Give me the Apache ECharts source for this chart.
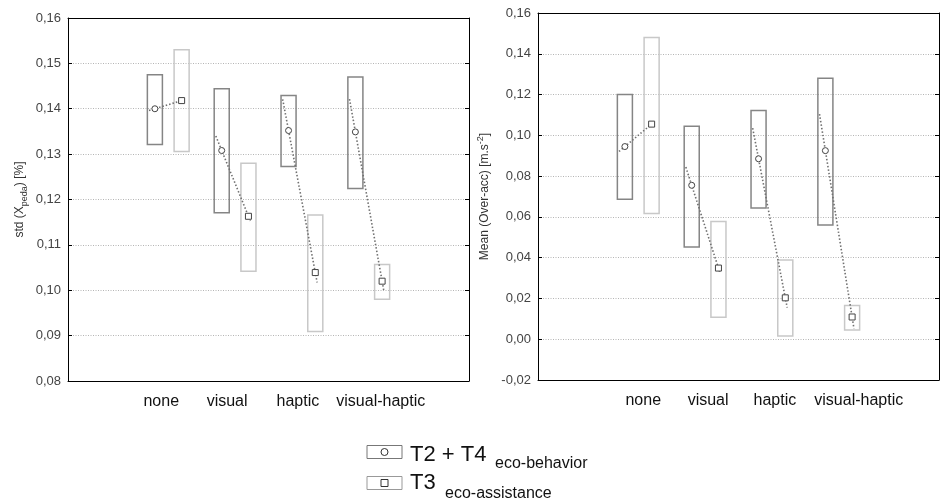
<!DOCTYPE html>
<html>
<head>
<meta charset="utf-8">
<script src="https://cdn.jsdelivr.net/npm/echarts@6/dist/echarts.min.js"></script>
<style>
html,body{margin:0;padding:0;background:#fff;}
#chart{width:942px;height:503px;}
</style>
</head>
<body>
<div id="chart"></div>
<script>
// ---- data ----
const categories = ['', 'none', 'visual', 'haptic', 'visual-haptic', ''];
const groups = ['none', 'visual', 'haptic', 'visual-haptic'];

// left: std (X_peda) [%]
const stdBehaviorMean = [0.1400, 0.1308, 0.1352, 0.1349];
const stdBehaviorLow  = [0.1321, 0.1171, 0.1273, 0.1224];
const stdBehaviorHigh = [0.1475, 0.1444, 0.1429, 0.1470];
const stdAssistMean   = [0.1418, 0.1163, 0.1039, 0.1020];
const stdAssistLow    = [0.1306, 0.1042, 0.0909, 0.0980];
const stdAssistHigh   = [0.1530, 0.1280, 0.1166, 0.1057];

// right: Mean (Over-acc) [m.s-2]
const accBehaviorMean = [0.0945, 0.0755, 0.0885, 0.0925];
const accBehaviorLow  = [0.0687, 0.0452, 0.0643, 0.0560];
const accBehaviorHigh = [0.1200, 0.1045, 0.1122, 0.1280];
const accAssistMean   = [0.1055, 0.0349, 0.0203, 0.0109];
const accAssistLow    = [0.0617, 0.0108, 0.0016, 0.0045];
const accAssistHigh   = [0.1480, 0.0577, 0.0388, 0.0166];

const leftTicks  = {min: 0.08, max: 0.16, interval: 0.01};
const rightTicks = {min: -0.02, max: 0.16, interval: 0.02};

function buildRows(m1, l1, h1, m2, l2, h2) {
  return groups.map((g, i) => [g, m1[i], l1[i], h1[i], m2[i], l2[i], h2[i]]);
}

const FONT = 'Liberation Sans, Arial, sans-serif';

// label horizontal nudges (px) per category slot, style only
const leftLabelShift  = [0, -7, -8, -4, 12, 0];
const rightLabelShift = [0, 5, 3, 3, 20, 0];

function renderBoxes(params, api) {
  const i = api.value(0);
  const center = api.coord([i, 0])[0];
  const band = api.size([1, 0])[0];
  const off = band * 0.2, w = band * 0.225;
  const y = v => api.coord([i, v])[1];
  const x1 = center - off, x2 = center + off;
  const m1 = api.value(1), lo1 = api.value(2), hi1 = api.value(3);
  const m2 = api.value(4), lo2 = api.value(5), hi2 = api.value(6);
  const p1 = [x1, y(m1)], p2 = [x2, y(m2)];
  const dx = p2[0] - p1[0], dy = p2[1] - p1[1];
  const a = -0.22, b = 1.07;
  return {
    type: 'group',
    children: [
      {type: 'rect', shape: {x: x1 - w / 2, y: y(hi1), width: w, height: y(lo1) - y(hi1)},
       style: {fill: 'none', stroke: '#858585', lineWidth: 1.5}},
      {type: 'rect', shape: {x: x2 - w / 2, y: y(hi2), width: w, height: y(lo2) - y(hi2)},
       style: {fill: 'none', stroke: '#c8c8c8', lineWidth: 1.5}},
      {type: 'line', shape: {x1: p1[0] + a * dx, y1: p1[1] + a * dy, x2: p1[0] + b * dx, y2: p1[1] + b * dy},
       style: {stroke: '#707070', lineWidth: 1.6, lineDash: [1.5, 2]}},
      {type: 'circle', shape: {cx: p1[0], cy: p1[1], r: 3},
       style: {fill: '#fff', stroke: '#444', lineWidth: 1}},
      {type: 'rect', shape: {x: p2[0] - 3, y: p2[1] - 3, width: 6, height: 6},
       style: {fill: '#fff', stroke: '#444', lineWidth: 1}}
    ]
  };
}

function xAxes(gi, shifts) {
  const rich = {};
  shifts.forEach((d, k) => {
    rich['c' + k] = {fontSize: 16, color: '#111', fontFamily: FONT,
      padding: d >= 0 ? [0, 0, 0, 2 * d] : [0, -2 * d, 0, 0]};
  });
  return [
    {gridIndex: gi, type: 'category', data: categories, position: 'bottom', boundaryGap: true,
     axisLine: {onZero: false, lineStyle: {color: '#000', width: 1}},
     axisTick: {inside: true, alignWithLabel: true, length: 4, lineStyle: {color: '#000'}},
     axisLabel: {interval: 0, fontSize: 16, margin: 13, color: '#111', fontFamily: FONT,
       formatter: (v, idx) => v ? '{c' + idx + '|' + v + '}' : '', rich: rich},
     splitLine: {show: false}},
    {gridIndex: gi, type: 'category', data: categories, position: 'top', boundaryGap: true,
     axisLine: {onZero: false, lineStyle: {color: '#000', width: 1}},
     axisTick: {inside: true, alignWithLabel: true, length: 4, lineStyle: {color: '#000'}},
     axisLabel: {show: false}, splitLine: {show: false}}
  ];
}

function yAxes(gi, t, name, gap) {
  const fmt = v => v.toFixed(2).replace('.', ',');
  return [
    {gridIndex: gi, type: 'value', min: t.min, max: t.max, interval: t.interval, position: 'left',
     name: name, nameLocation: 'middle', nameGap: gap,
     nameTextStyle: {fontFamily: FONT, fontSize: 12, color: '#333',
       rich: {
         a: {fontFamily: FONT, fontSize: 12, color: '#333', lineHeight: 18, verticalAlign: 'middle'},
         s: {fontFamily: FONT, fontSize: 9, color: '#333', lineHeight: 9, verticalAlign: 'bottom'},
         p: {fontFamily: FONT, fontSize: 9, color: '#333', lineHeight: 9, verticalAlign: 'top'}
       }},
     axisLine: {show: true, onZero: false, lineStyle: {color: '#000', width: 1}},
     axisTick: {show: true, inside: true, length: 4, lineStyle: {color: '#000'}},
     axisLabel: {formatter: fmt, fontSize: 13, margin: 7, color: '#444', fontFamily: FONT},
     splitLine: {show: true, lineStyle: {color: '#b5b5b5', type: [1, 1.5], width: 1}}},
    {gridIndex: gi, type: 'value', min: t.min, max: t.max, interval: t.interval, position: 'right',
     axisLine: {show: true, onZero: false, lineStyle: {color: '#000', width: 1}},
     axisTick: {show: true, inside: true, length: 4, lineStyle: {color: '#000'}},
     axisLabel: {show: false}, splitLine: {show: false}}
  ];
}

const chart = echarts.init(document.getElementById('chart'), null, {renderer: 'canvas'});

const option = {
  backgroundColor: '#fff',
  animation: false,
  grid: [
    {left: 68, top: 18, width: 401, height: 363},
    {left: 538, top: 13, width: 401, height: 367}
  ],
  xAxis: [...xAxes(0, leftLabelShift), ...xAxes(1, rightLabelShift)],
  yAxis: [
    ...yAxes(0, leftTicks, '{a|std (X}{s|peda}{a|) [%]}', 39),
    ...yAxes(1, rightTicks, '{a|Mean (Over-acc) [m.s}{p|-2}{a|]}', 44)
  ],
  series: [
    {type: 'custom', xAxisIndex: 0, yAxisIndex: 0, renderItem: renderBoxes,
     encode: {x: 0, y: [1, 2, 3, 4, 5, 6]},
     data: buildRows(stdBehaviorMean, stdBehaviorLow, stdBehaviorHigh, stdAssistMean, stdAssistLow, stdAssistHigh)},
    {type: 'custom', xAxisIndex: 2, yAxisIndex: 2, renderItem: renderBoxes,
     encode: {x: 0, y: [1, 2, 3, 4, 5, 6]},
     data: buildRows(accBehaviorMean, accBehaviorLow, accBehaviorHigh, accAssistMean, accAssistLow, accAssistHigh)}
  ],
  graphic: [
    {type: 'rect', shape: {x: 367, y: 445.5, width: 35, height: 13}, style: {fill: '#fff', stroke: '#777', lineWidth: 1}},
    {type: 'circle', shape: {cx: 384.5, cy: 452, r: 3.5}, style: {fill: '#fff', stroke: '#333', lineWidth: 1}},
    {type: 'text', x: 410, y: 455, style: {text: 'T2 + T4', font: '22px ' + FONT, fill: '#111', verticalAlign: 'middle'}},
    {type: 'text', x: 495, y: 464, style: {text: 'eco-behavior', font: '16px ' + FONT, fill: '#111', verticalAlign: 'middle'}},
    {type: 'rect', shape: {x: 367, y: 476.5, width: 35, height: 13}, style: {fill: '#fff', stroke: '#999', lineWidth: 1}},
    {type: 'rect', shape: {x: 381, y: 479.5, width: 7, height: 7}, style: {fill: '#fff', stroke: '#333', lineWidth: 1}},
    {type: 'text', x: 410, y: 483, style: {text: 'T3', font: '22px ' + FONT, fill: '#111', verticalAlign: 'middle'}},
    {type: 'text', x: 445, y: 494, style: {text: 'eco-assistance', font: '16px ' + FONT, fill: '#111', verticalAlign: 'middle'}}
  ]
};
chart.setOption(option);
</script>
</body>
</html>
